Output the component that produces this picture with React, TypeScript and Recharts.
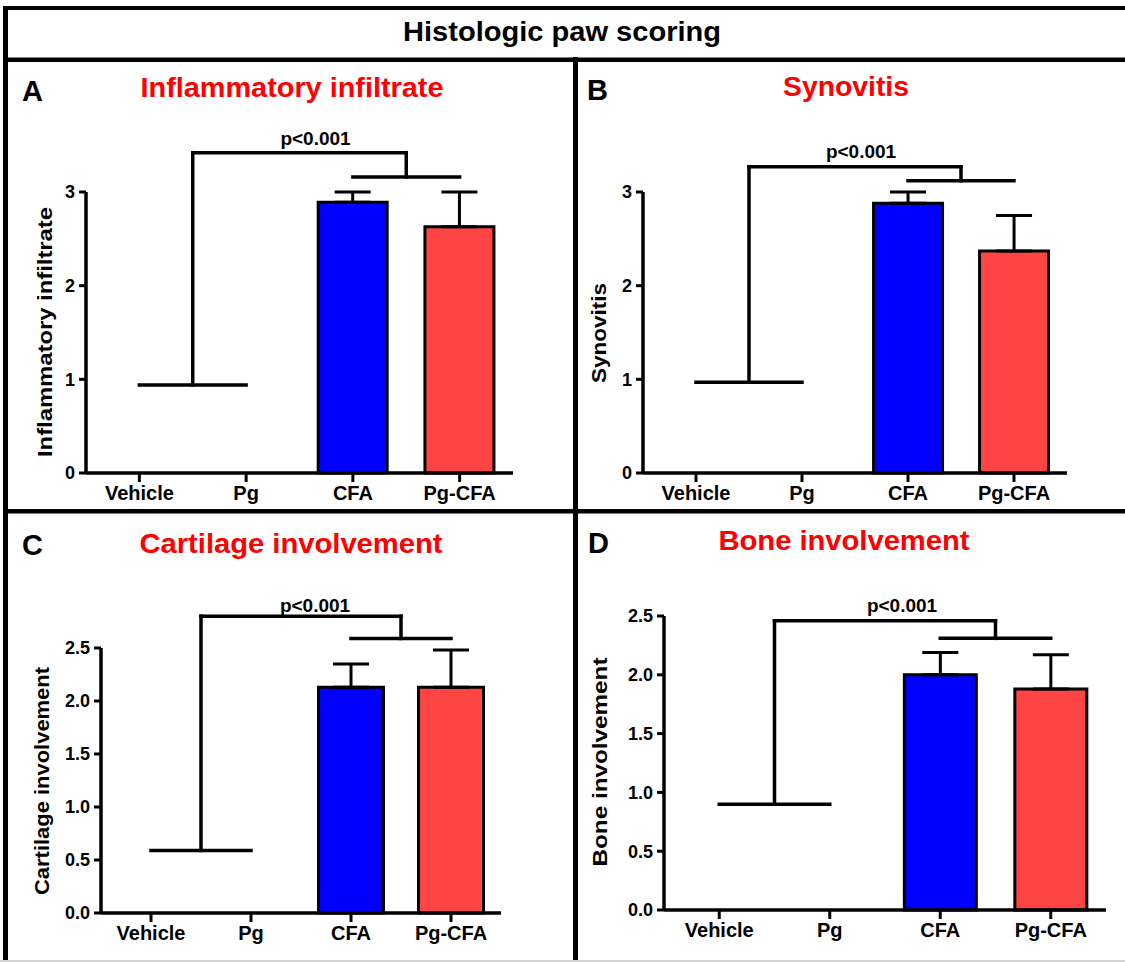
import React from 'react';
import { BarChart, Bar, ErrorBar, Cell, XAxis, YAxis, ReferenceLine } from 'recharts';

const groups = ['Vehicle', 'Pg', 'CFA', 'Pg-CFA'];

// mean score per group, upper SEM
const inflammatoryMean = [0, 0, 2.89, 2.63];
const inflammatorySem = [0, 0, 0.11, 0.37];
const synovitisMean = [0, 0, 2.88, 2.37];
const synovitisSem = [0, 0, 0.12, 0.38];
const cartilageMean = [0, 0, 2.13, 2.13];
const cartilageSem = [0, 0, 0.22, 0.35];
const boneMean = [0, 0, 2.0, 1.88];
const boneSem = [0, 0, 0.19, 0.29];

// significance bracket levels: controls, top, treated
const inflammatoryBracket = [0.94, 3.42, 3.16];
const synovitisBracket = [0.97, 3.27, 3.12];
const cartilageBracket = [0.59, 2.8, 2.59];
const boneBracket = [0.9, 2.46, 2.31];

const ticksWhole = [0, 1, 2, 3];
const ticksHalf = [0, 0.5, 1, 1.5, 2, 2.5];

const pLabel = 'p<0.001';

const font = '"Liberation Sans", Arial, Helvetica, sans-serif';
const groupColors = ['#0000ff', '#ff4444', '#0000ff', '#ff4444'];

type PanelProps = {
  x0: number;
  x1: number;
  yTop: number;
  yBottom: number;
  mean: number[];
  sem: number[];
  bracket: number[];
  yMax: number;
  ticks: number[];
  decimals: number;
  pDx: number;
  pLift: number;
};

function ScorePanel({ x0, x1, yTop, yBottom, mean, sem, bracket, yMax, ticks, decimals, pDx, pLift }: PanelProps) {
  // pos = centre of each group's band on a 0..4 numeric scale (used for the brackets)
  const data = groups.map((g, i) => ({ group: g, pos: i + 0.5, score: mean[i], sem: [0, sem[i]] }));
  const [low, top, high] = bracket;
  const padTop = 90;
  const padLeft = 60;
  const padRight = 20;
  const padBottom = 45;
  const yAxisW = 50;
  const xAxisH = 40;
  const line = { stroke: '#000', strokeWidth: 3.5, strokeLinecap: 'square' as const, ifOverflow: 'visible' as const };

  const pText = (props: any) => {
    const vb = props.viewBox;
    if (!vb) return null;
    return (
      <text
        x={vb.x + vb.width / 2 + pDx}
        y={vb.y - pLift}
        textAnchor="middle"
        fontSize={19}
        fontWeight="bold"
        fontFamily={font}
        fill="#000"
      >
        {pLabel}
      </text>
    );
  };

  return (
    <div style={{ position: 'absolute', left: x0 - padLeft, top: yTop - padTop }}>
      <BarChart
        width={x1 - x0 + padLeft + padRight}
        height={yBottom - yTop + padTop + padBottom}
        data={data}
        margin={{ top: padTop, right: padRight, bottom: padBottom - xAxisH, left: padLeft - yAxisW }}
        barCategoryGap="17.5%"
      >
        <XAxis
          dataKey="group"
          height={xAxisH}
          interval={0}
          axisLine={{ stroke: '#000', strokeWidth: 3.5 }}
          tickLine={{ stroke: '#000', strokeWidth: 3 }}
          tickSize={9}
          tickMargin={4}
          tick={{ fontSize: 20, fontWeight: 'bold', fill: '#000', fontFamily: font }}
        />
        <XAxis xAxisId="pos" dataKey="pos" type="number" domain={[0, 4]} allowDataOverflow hide />
        <YAxis
          width={yAxisW}
          type="number"
          domain={[0, yMax]}
          ticks={ticks}
          interval={0}
          tickFormatter={(v: number) => v.toFixed(decimals)}
          axisLine={{ stroke: '#000', strokeWidth: 3.5 }}
          tickLine={{ stroke: '#000', strokeWidth: 3 }}
          tickSize={7}
          tickMargin={4}
          tick={{ fontSize: 18, fontWeight: 'bold', fill: '#000', fontFamily: font }}
        />
        <Bar dataKey="score" stroke="#000" strokeWidth={3} isAnimationActive={false}>
          {data.map((d, i) => (
            <Cell key={d.group} fill={groupColors[i]} />
          ))}
          <ErrorBar dataKey="sem" direction="y" width={18} stroke="#000" strokeWidth={3} isAnimationActive={false} />
        </Bar>
        <ReferenceLine xAxisId="pos" {...line} segment={[{ x: 0.5, y: low }, { x: 1.5, y: low }]} />
        <ReferenceLine xAxisId="pos" {...line} segment={[{ x: 1, y: low }, { x: 1, y: top }]} />
        <ReferenceLine xAxisId="pos" {...line} segment={[{ x: 1, y: top }, { x: 3, y: top }]} label={pText} />
        <ReferenceLine xAxisId="pos" {...line} segment={[{ x: 3, y: top }, { x: 3, y: high }]} />
        <ReferenceLine xAxisId="pos" {...line} segment={[{ x: 2.5, y: high }, { x: 3.5, y: high }]} />
      </BarChart>
    </div>
  );
}

function YTitle({ x, y, text, length }: { x: number; y: number; text: string; length: number }) {
  return (
    <text
      transform={`translate(${x},${y}) rotate(-90)`}
      textAnchor="middle"
      fontSize={21}
      fontWeight="bold"
      fill="#000"
      textLength={length}
      lengthAdjust="spacingAndGlyphs"
    >
      {text}
    </text>
  );
}

export default function App() {
  return (
    <div
      style={{
        position: 'absolute',
        left: 0,
        top: 0,
        width: 1125,
        height: 962,
        overflow: 'hidden',
        background: '#fff',
        fontFamily: font,
      }}
    >
      <svg width={1125} height={962} style={{ position: 'absolute', left: 0, top: 0 }} fontFamily={font}>
        <rect x={3} y={6} width={1122} height={4} fill="#000" />
        <rect x={3} y={6} width={5} height={956} fill="#000" />
        <rect x={3} y={57.5} width={1122} height={4.5} fill="#000" />
        <rect x={3} y={509} width={1122} height={4.5} fill="#000" />
        <rect x={573} y={57} width={5} height={905} fill="#000" />
        <rect x={0} y={960} width={1125} height={2} fill="#d4d4d4" />

        <text x={562} y={41} textAnchor="middle" fontSize={28} fontWeight="bold" fill="#000" textLength={318} lengthAdjust="spacingAndGlyphs">
          Histologic paw scoring
        </text>

        <text x={22} y={101} fontSize={29} fontWeight="bold" fill="#000">A</text>
        <text x={587} y={100} fontSize={29} fontWeight="bold" fill="#000">B</text>
        <text x={22} y={555} fontSize={29} fontWeight="bold" fill="#000">C</text>
        <text x={588} y={553} fontSize={29} fontWeight="bold" fill="#000">D</text>

        <text x={292} y={97} textAnchor="middle" fontSize={28} fontWeight="bold" fill="#ff0000" textLength={303} lengthAdjust="spacingAndGlyphs">
          Inflammatory infiltrate
        </text>
        <text x={846} y={96} textAnchor="middle" fontSize={28} fontWeight="bold" fill="#ff0000" textLength={126} lengthAdjust="spacingAndGlyphs">
          Synovitis
        </text>
        <text x={291} y={553} textAnchor="middle" fontSize={28} fontWeight="bold" fill="#ff0000" textLength={303} lengthAdjust="spacingAndGlyphs">
          Cartilage involvement
        </text>
        <text x={844} y={550} textAnchor="middle" fontSize={28} fontWeight="bold" fill="#ff0000" textLength={251} lengthAdjust="spacingAndGlyphs">
          Bone involvement
        </text>

        <YTitle x={52} y={332} text="Inflammatory infiltrate" length={250} />
        <YTitle x={606} y={333} text="Synovitis" length={100} />
        <YTitle x={49} y={781} text="Cartilage involvement" length={228} />
        <YTitle x={607} y={762} text="Bone involvement" length={209} />
      </svg>

      <ScorePanel x0={86} x1={513} yTop={192} yBottom={473} mean={inflammatoryMean} sem={inflammatorySem}
        bracket={inflammatoryBracket} yMax={3} ticks={ticksWhole} decimals={0} pDx={16} pLift={8} />
      <ScorePanel x0={643} x1={1067} yTop={192} yBottom={473} mean={synovitisMean} sem={synovitisSem}
        bracket={synovitisBracket} yMax={3} ticks={ticksWhole} decimals={0} pDx={6} pLift={9} />
      <ScorePanel x0={101} x1={501} yTop={648} yBottom={913} mean={cartilageMean} sem={cartilageSem}
        bracket={cartilageBracket} yMax={2.5} ticks={ticksHalf} decimals={1} pDx={14} pLift={4} />
      <ScorePanel x0={664} x1={1106} yTop={616} yBottom={910} mean={boneMean} sem={boneSem}
        bracket={boneBracket} yMax={2.5} ticks={ticksHalf} decimals={1} pDx={17} pLift={9} />
    </div>
  );
}
